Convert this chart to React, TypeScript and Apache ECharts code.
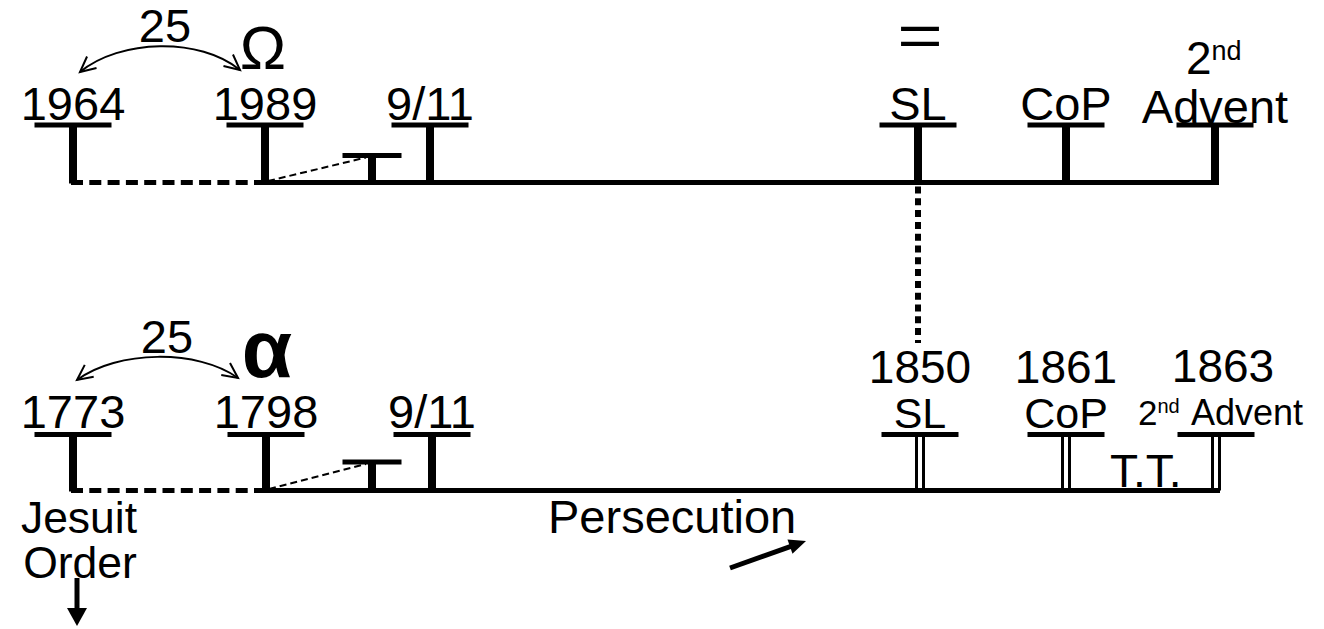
import React, { useEffect, useRef } from "react";
import * as echarts from "echarts";

// ---------------- data ----------------
const topLabels = ["1964", "1989", "", "9/11", "SL", "CoP", "Advent"];
const topPositions = [73, 265, 372, 430, 918, 1066, 1215];
const bottomYears = ["1773", "1798", "", "9/11", "1850", "1861", "1863"];
const bottomLabels = ["", "", "", "", "SL", "CoP", "Advent"];
const bottomPositions = [73, 266, 372, 432, 920, 1066, 1216];
const spanLabels = ["25", "25"];
const rowSymbols = ["Ω", "α"];
const ordinal = ["2", "nd"];
const noteTexts = ["=", "T.T.", "Jesuit", "Order", "Persecution"];

// ---------------- layout ----------------
const W = 1324;
const H = 629;
const INK = "#000";
const FONT = '"Liberation Sans", Arial, Helvetica, sans-serif';
const CENTRAL = 0.3465;
const ROWS: any = {
  top: { base: 182.5, bar: 125, shortBar: 155.5, labelBase: 120 },
  bottom: { base: 490.5, bar: 434.5, shortBar: 462, labelBase: 428 },
};
const BAR_HALF = 38.5;
const SHORT_HALF = 29.5;
const BAR_T = 5;
const STEM = 8;
const BASE_W = 5;
const yearBaseBottom: any = { 4: 383, 5: 383.3, 6: 382 };

const yc = (baseline: number, size: number) => baseline - CENTRAL * size;

function txt(
  text: string,
  x: number,
  baseline: number,
  size: number,
  align = "center",
  weight: any = "normal"
) {
  return {
    type: "text",
    silent: true,
    style: {
      text,
      x,
      y: yc(baseline, size),
      fill: INK,
      textFill: INK,
      fontSize: size,
      fontFamily: FONT,
      fontWeight: weight,
      align,
      verticalAlign: "middle",
      textAlign: align,
      textVerticalAlign: "middle",
    },
  };
}

function rect(x: number, y: number, w: number, h: number) {
  return { type: "rect", shape: { x, y, width: w, height: h }, style: { fill: INK } };
}

function rowSeries(row: "top" | "bottom") {
  const positions = row === "top" ? topPositions : bottomPositions;
  const L = ROWS[row];
  return {
    type: "custom",
    coordinateSystem: "cartesian2d",
    silent: true,
    clip: false,
    data: positions.map((x, i) => [x, i]),
    encode: { x: 0, y: 1 },
    renderItem: (params: any, api: any) => {
      const i = api.value(1);
      const p = api.coord([api.value(0), L.base]);
      const cx = p[0];
      const baseY = p[1];
      const short = i === 2;
      const barY = api.coord([0, short ? L.shortBar : L.bar])[1];
      const half = short ? SHORT_HALF : BAR_HALF;
      const children: any[] = [];
      children.push(rect(cx - half, barY - BAR_T / 2, 2 * half, BAR_T));
      const double = row === "bottom" && i >= 4;
      if (double) {
        children.push(rect(cx - 5, barY, 3, baseY - barY));
        children.push(rect(cx + 2, barY, 3, baseY - barY));
      } else {
        children.push(rect(cx - STEM / 2, barY, STEM, baseY - barY + 1));
      }
      if (row === "top") {
        if (i === 6) {
          children.push(txt(topLabels[i], cx, 122.5, 47));
          children.push(txt(ordinal[0], cx - 29, 74.3, 46, "left"));
          children.push(txt(ordinal[1], cx - 29 + 25.6, 60, 27, "left"));
        } else if (topLabels[i]) {
          children.push(txt(topLabels[i], cx, L.labelBase, 47));
        }
      } else {
        if (i < 4 && bottomYears[i]) {
          children.push(txt(bottomYears[i], cx, L.labelBase, 47));
        } else if (i === 4 || i === 5) {
          children.push(txt(bottomYears[i], cx, yearBaseBottom[i], 46));
          children.push(txt(bottomLabels[i], cx, L.labelBase, 43));
        } else if (i === 6) {
          children.push(txt(bottomYears[i], cx + 7, yearBaseBottom[i], 46));
          children.push(txt(ordinal[0], cx - 78, 425, 35, "left"));
          children.push(txt(ordinal[1], cx - 78 + 19.5, 413, 20, "left"));
          children.push(txt(bottomLabels[i], cx - 25, 425, 36, "left"));
        }
      }
      return { type: "group", children };
    },
  };
}

function lineSeries(points: number[][], width: number, type: any) {
  return {
    type: "line",
    silent: true,
    symbol: "none",
    animation: false,
    data: points,
    lineStyle: { color: INK, width, type, cap: "butt" },
  };
}

function arrowArms(tx: number, ty: number, fx: number, fy: number, len = 17, ang = 26) {
  const a = Math.atan2(fy - ty, fx - tx);
  const r = (ang * Math.PI) / 180;
  return {
    type: "polyline",
    silent: true,
    shape: {
      points: [
        [tx + len * Math.cos(a + r), ty + len * Math.sin(a + r)],
        [tx, ty],
        [tx + len * Math.cos(a - r), ty + len * Math.sin(a - r)],
      ],
    },
    style: { stroke: INK, lineWidth: 2, fill: null },
  };
}

function curvedArrow(x1: number, y1: number, c1x: number, c1y: number, c2x: number, c2y: number, x2: number, y2: number) {
  return [
    {
      type: "bezierCurve",
      silent: true,
      shape: { x1, y1, x2, y2, cpx1: c1x, cpy1: c1y, cpx2: c2x, cpy2: c2y },
      style: { stroke: INK, lineWidth: 2, fill: null },
    },
    arrowArms(x1, y1, c1x, c1y),
    arrowArms(x2, y2, c2x, c2y),
  ];
}

function solidArrow(x1: number, y1: number, x2: number, y2: number, width: number, headLen: number, headHalf: number) {
  const dx = x2 - x1;
  const dy = y2 - y1;
  const len = Math.hypot(dx, dy);
  const ux = dx / len;
  const uy = dy / len;
  const bx = x2 - ux * headLen;
  const by = y2 - uy * headLen;
  const px = -uy;
  const py = ux;
  return [
    {
      type: "line",
      silent: true,
      shape: { x1, y1, x2: bx + ux * 1, y2: by + uy * 1 },
      style: { stroke: INK, lineWidth: width },
    },
    {
      type: "polygon",
      silent: true,
      shape: {
        points: [
          [x2, y2],
          [bx + px * headHalf, by + py * headHalf],
          [bx - px * headHalf, by - py * headHalf],
        ],
      },
      style: { fill: INK },
    },
  ];
}

function buildOption() {
  const T = ROWS.top;
  const B = ROWS.bottom;
  const series: any[] = [
    // top baseline
    lineSeries([[topPositions[1] - STEM / 2, T.base], [topPositions[6] + STEM / 2, T.base]], BASE_W, "solid"),
    lineSeries([[topPositions[0] - 2, T.base], [topPositions[1], T.base]], BASE_W, [12, 6.3]),
    lineSeries([[topPositions[1] + 3, T.base - 1.5], [topPositions[2] - 6, T.shortBar + 2]], 2, [7, 4]),
    // bottom baseline
    lineSeries([[bottomPositions[1] - STEM / 2, B.base], [bottomPositions[6] + 4, B.base]], BASE_W, "solid"),
    lineSeries([[bottomPositions[0] - 2, B.base], [bottomPositions[1], B.base]], BASE_W, [12, 6.3]),
    lineSeries([[bottomPositions[1] + 3, B.base - 1.5], [bottomPositions[2] - 6, B.shortBar + 2]], 2, [7, 4]),
    // dotted connector SL -> SL
    lineSeries([[topPositions[4], T.base + 4], [topPositions[4], 343]], 6, [7, 4.8]),
    rowSeries("top"),
    rowSeries("bottom"),
  ];

  const equalsSign = {
    type: "text",
    silent: true,
    x: 920,
    y: 35,
    scaleX: 1.3,
    style: {
      text: noteTexts[0],
      x: 0,
      y: 0,
      fill: INK,
      textFill: INK,
      fontSize: 60,
      fontFamily: FONT,
      align: "center",
      verticalAlign: "middle",
      textAlign: "center",
      textVerticalAlign: "middle",
    },
  };

  const graphics: any[] = [
    txt(spanLabels[0], 165, 42, 47),
    txt(rowSymbols[0], 263, 69, 62),
    equalsSign,
    ...curvedArrow(80, 72, 120, 39, 200, 37, 240, 70),
    txt(spanLabels[1], 167, 353, 47),
    txt(rowSymbols[1], 267, 377, 82, "center", "bold"),
    ...curvedArrow(77, 380, 117, 350, 198, 349, 238, 378),
    txt(noteTexts[1], 1110, 487, 46, "left"),
    txt(noteTexts[2], 79, 532.5, 44.5),
    txt(noteTexts[3], 80, 577.5, 44.5),
    txt(noteTexts[4], 548, 533, 47, "left"),
    ...solidArrow(730, 568, 806, 541, 5, 17, 7.5),
    ...solidArrow(77, 578, 77, 626, 5, 18, 10),
  ];

  return {
    animation: false,
    backgroundColor: "#fff",
    grid: { left: 0, right: 0, top: 0, bottom: 0, containLabel: false },
    xAxis: { type: "value", min: 0, max: W, show: false },
    yAxis: { type: "value", min: 0, max: H, inverse: true, show: false },
    series,
    graphic: { elements: graphics },
  };
}

export default function App() {
  const ref = useRef<HTMLDivElement>(null);
  useEffect(() => {
    const chart = echarts.init(ref.current as HTMLDivElement, null, { renderer: "svg" });
    chart.setOption(buildOption() as any);
    return () => chart.dispose();
  }, []);
  return (
    <div
      ref={ref}
      style={{ position: "absolute", left: 0, top: 0, width: W, height: H, background: "#fff" }}
    />
  );
}
